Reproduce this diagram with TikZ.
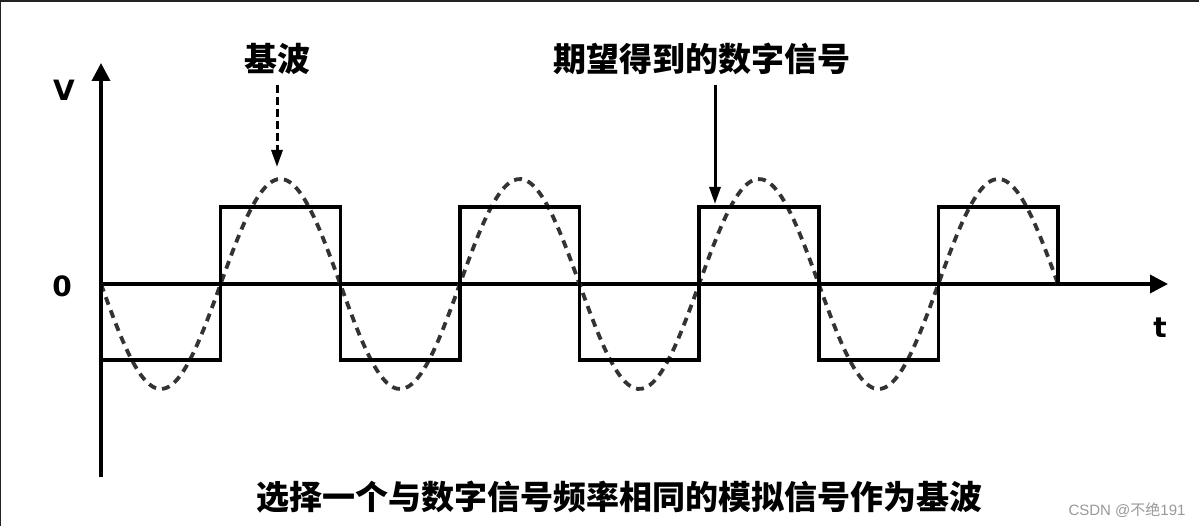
\documentclass[tikz,border=0pt]{standalone}
\usepackage{fontspec}
\setmainfont{DejaVu Sans}
\newfontfamily\cjk{Noto Sans CJK SC}
\newfontfamily\marklatin{Liberation Sans}
\usetikzlibrary{arrows.meta}
\definecolor{curvegray}{HTML}{333333}
\definecolor{framegray}{HTML}{222222}
\definecolor{markgray}{HTML}{999999}
\tikzset{
  axisline/.style={line width=3.6pt, -{Triangle[length=18pt,width=18pt]}},
  squarewave/.style={line width=3.6pt, line join=miter},
  basewave/.style={line width=3.8pt, curvegray, dash pattern=on 8pt off 6pt},
  pointer/.style={line width=3pt, -{Triangle[length=17pt,width=11pt]}},
  axislabel/.style={font=\fontsize{28}{28}\selectfont\bfseries, inner sep=0pt},
  cjklabel/.style={font=\cjk\fontsize{33}{33}\selectfont\bfseries, inner sep=0pt},
}
\begin{document}
\begin{tikzpicture}[x=1pt,y=-1pt]
\useasboundingbox (0,0) rectangle (1199,526);
\fill[white] (0,0) rectangle (1199,526);
% frame edges
\fill[framegray] (0,0) rectangle (1199,2.5);
\fill[framegray] (0,0) rectangle (1.3,526);
% axes
\coordinate (yb) at (101,477);
\coordinate (yt) at (101,63);
\coordinate (xl) at (101,284);
\coordinate (xr) at (1168,284);
\draw[axisline] (yb) -- (yt);
\draw[axisline] (xl) -- (xr);
% sine (fundamental)
\draw[basewave] plot[domain=101:1058, samples=240, smooth] (\x, {284 + 105*sin((\x-101)/119.625*180)});
% square wave
\draw[squarewave] (101,284) -- (101,360)
  -- (220.6,360) -- (220.6,207) -- (340.3,207) -- (340.3,360)
  -- (459.9,360) -- (459.9,207) -- (579.5,207) -- (579.5,360)
  -- (699.1,360) -- (699.1,207) -- (818.8,207) -- (818.8,360)
  -- (938.4,360) -- (938.4,207) -- (1058,207) -- (1058,284);
% labels
\node[axislabel] (V) at (64,90) {V};
\node[axislabel] (zero) at (62,286) {0};
\node[axislabel] (t) at (1160,328) {t};
\node[cjklabel] (jibo) at (277,59) {基波};
\node[cjklabel] (qiwang) at (702,59) {期望得到的数字信号};
\node[cjklabel] (caption) at (619,497) {选择一个与数字信号频率相同的模拟信号作为基波};
\node[font=\marklatin\fontsize{15}{15}\selectfont, text=markgray, inner sep=0pt] (mark) at (1127,510) {CSDN @{\cjk 不绝}191};
% pointers
\coordinate (jtip) at (277,167);
\coordinate (qtip) at (715,204);
\draw[pointer, dash pattern=on 8pt off 4pt] (277,85) -- (jtip);
\draw[pointer] (715,85) -- (qtip);
\end{tikzpicture}
\end{document}
